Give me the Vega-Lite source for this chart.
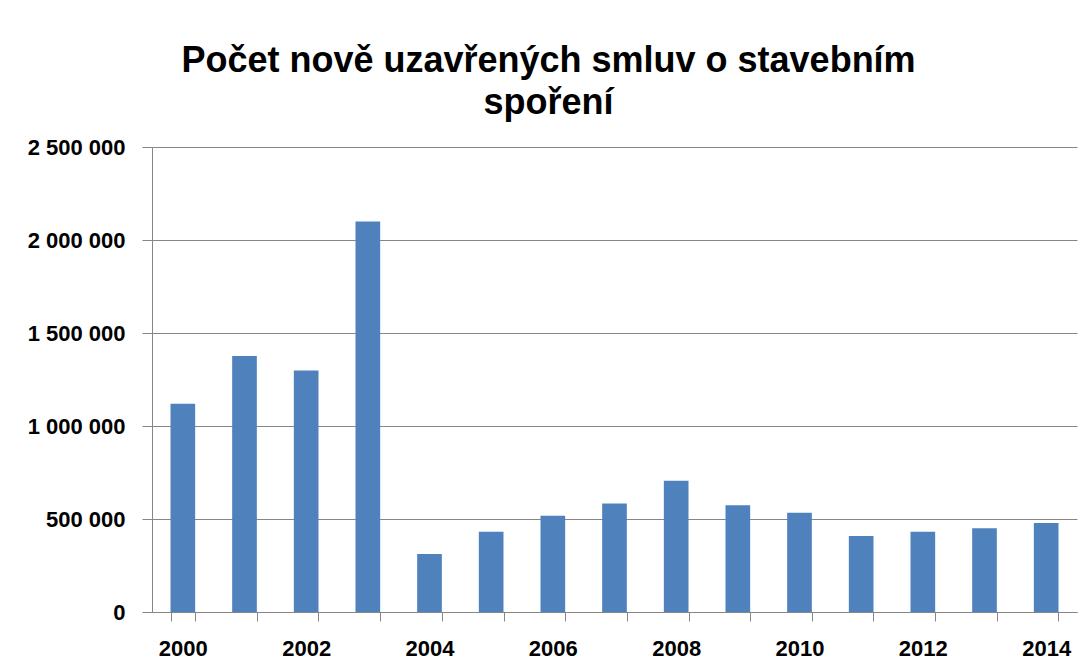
{
  "$schema": "https://vega.github.io/schema/vega-lite/v6.json",
  "autosize": {"type": "none"},
  "width": 925,
  "height": 465,
  "padding": {"left": 152, "top": 147, "right": 1, "bottom": 55},
  "background": "white",
  "config": {
    "locale": {"number": {"decimal": ",", "thousands": " ", "grouping": [3], "currency": ["", " Kč"]}},
    "view": {"stroke": null},
    "font": "Liberation Sans"
  },
  "title": {
    "text": ["Počet nově uzavřených smluv o stavebním", "spoření"],
    "font": "Liberation Sans",
    "fontSize": 36,
    "fontWeight": "bold",
    "color": "black",
    "anchor": "middle",
    "dx": -66,
    "lineHeight": 42,
    "offset": 14
  },
  "data": {
    "values": [
      {"rok": 2000, "pocet": 1119000},
      {"rok": 2001, "pocet": 1376000},
      {"rok": 2002, "pocet": 1299000},
      {"rok": 2003, "pocet": 2099000},
      {"rok": 2004, "pocet": 312000},
      {"rok": 2005, "pocet": 431000},
      {"rok": 2006, "pocet": 518000},
      {"rok": 2007, "pocet": 583000},
      {"rok": 2008, "pocet": 705000},
      {"rok": 2009, "pocet": 574000},
      {"rok": 2010, "pocet": 533000},
      {"rok": 2011, "pocet": 409000},
      {"rok": 2012, "pocet": 431000},
      {"rok": 2013, "pocet": 450000},
      {"rok": 2014, "pocet": 479000}
    ]
  },
  "mark": {"type": "bar", "color": "#4F81BD"},
  "encoding": {
    "x": {
      "field": "rok",
      "type": "ordinal",
      "scale": {"paddingInner": 0.6, "paddingOuter": 0.3},
      "axis": {
        "title": null,
        "labelAngle": 0,
        "labelExpr": "datum.value % 2 == 0 ? datum.label : ''",
        "labelFont": "Liberation Sans",
        "labelFontSize": 22,
        "labelFontWeight": "bold",
        "labelColor": "black",
        "labelPadding": 17,
        "tickBand": "extent",
        "tickSize": 9,
        "tickColor": "#868686",
        "domainColor": "#868686",
        "grid": false
      }
    },
    "y": {
      "field": "pocet",
      "type": "quantitative",
      "scale": {"domain": [0, 2500000], "nice": false},
      "axis": {
        "title": null,
        "values": [0, 500000, 1000000, 1500000, 2000000, 2500000],
        "format": ",d",
        "labelFont": "Liberation Sans",
        "labelFontSize": 22,
        "labelFontWeight": "bold",
        "labelColor": "black",
        "labelPadding": 17,
        "tickSize": 10,
        "tickColor": "#868686",
        "domainColor": "#868686",
        "gridColor": "#868686",
        "grid": true
      }
    }
  }
}
